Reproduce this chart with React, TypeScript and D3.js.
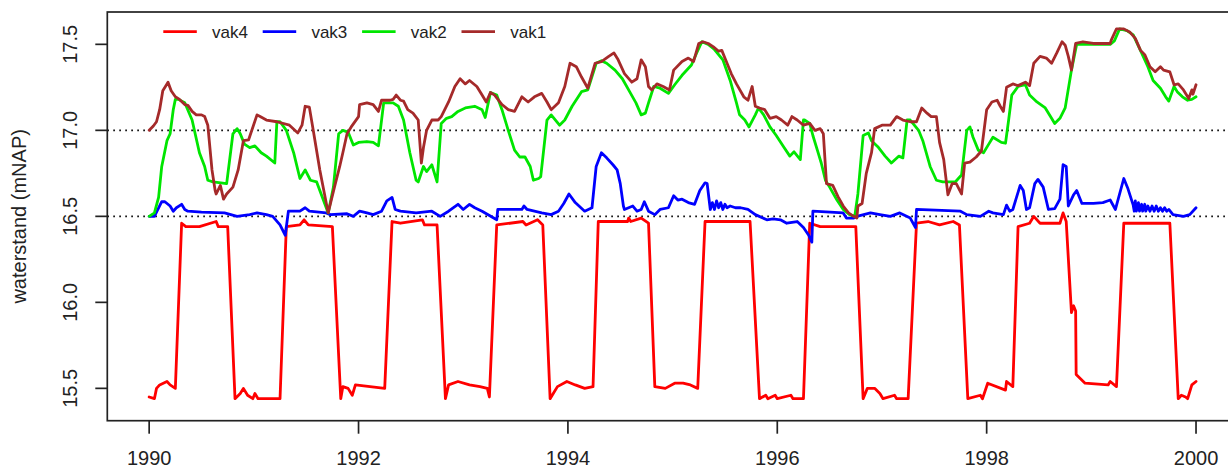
import React, { useEffect, useRef } from 'react'
import * as d3 from 'd3'

// water levels (mNAP) per compartment, [decimal year, level]
const vak4: [number, number][] = [
  [1990.00,15.45],[1990.05,15.44],[1990.07,15.50],[1990.10,15.52],[1990.17,15.54],[1990.20,15.52],[1990.25,15.50],
  [1990.31,16.46],[1990.35,16.44],[1990.48,16.44],[1990.64,16.47],[1990.66,16.44],[1990.75,16.44],
  [1990.82,15.44],[1990.87,15.47],[1990.90,15.50],[1990.94,15.46],[1990.99,15.44],[1991.01,15.47],[1991.04,15.44],[1991.25,15.44],
  [1991.31,16.44],[1991.44,16.45],[1991.48,16.48],[1991.52,16.45],[1991.75,16.44],
  [1991.83,15.44],[1991.85,15.51],[1991.90,15.50],[1991.94,15.46],[1991.97,15.52],[1992.11,15.51],[1992.25,15.50],
  [1992.32,16.47],[1992.40,16.46],[1992.61,16.48],[1992.63,16.45],[1992.75,16.45],
  [1992.83,15.44],[1992.86,15.52],[1992.95,15.54],[1993.06,15.52],[1993.16,15.51],[1993.23,15.50],[1993.25,15.45],
  [1993.32,16.45],[1993.57,16.47],[1993.60,16.45],[1993.71,16.48],[1993.76,16.45],
  [1993.83,15.44],[1993.86,15.47],[1993.90,15.51],[1993.99,15.54],[1994.07,15.52],[1994.16,15.50],[1994.24,15.51],
  [1994.29,16.47],[1994.57,16.47],[1994.58,16.49],[1994.60,16.47],[1994.70,16.49],[1994.77,16.46],
  [1994.83,15.51],[1994.93,15.50],[1995.02,15.53],[1995.10,15.53],[1995.17,15.52],[1995.24,15.50],
  [1995.31,16.47],[1995.74,16.47],
  [1995.83,15.44],[1995.89,15.46],[1995.91,15.44],[1995.98,15.46],[1996.00,15.44],[1996.13,15.46],[1996.15,15.44],[1996.25,15.44],
  [1996.31,16.46],[1996.41,16.44],[1996.75,16.44],
  [1996.82,15.44],[1996.86,15.50],[1996.93,15.50],[1996.98,15.47],[1997.01,15.44],[1997.12,15.46],[1997.14,15.44],[1997.25,15.44],
  [1997.33,16.46],[1997.44,16.47],[1997.55,16.45],[1997.68,16.47],[1997.74,16.45],
  [1997.82,15.44],[1997.94,15.46],[1997.96,15.44],[1998.01,15.53],[1998.18,15.49],[1998.19,15.54],[1998.25,15.51],
  [1998.30,16.44],[1998.41,16.46],[1998.45,16.50],[1998.51,16.46],[1998.70,16.46],[1998.73,16.52],[1998.76,16.47],
  [1998.81,15.94],[1998.83,15.98],[1998.85,15.95],[1998.855,15.58],[1998.94,15.53],[1999.16,15.52],[1999.18,15.54],[1999.24,15.51],
  [1999.31,16.46],[1999.75,16.46],
  [1999.83,15.44],[1999.86,15.46],[1999.90,15.45],[1999.92,15.44],[1999.96,15.52],[2000.00,15.54],
]

const vak3: [number, number][] = [
  [1990.00,16.50],[1990.05,16.50],[1990.12,16.585],[1990.15,16.585],[1990.20,16.56],[1990.23,16.53],[1990.26,16.55],
  [1990.31,16.57],[1990.34,16.54],[1990.37,16.53],[1990.50,16.525],[1990.72,16.52],[1990.84,16.50],[1990.96,16.51],
  [1991.03,16.52],[1991.12,16.51],[1991.18,16.50],[1991.25,16.45],[1991.30,16.39],[1991.33,16.53],[1991.44,16.53],
  [1991.49,16.55],[1991.53,16.53],[1991.69,16.52],[1991.73,16.51],[1991.89,16.515],[1991.95,16.50],[1992.01,16.53],
  [1992.08,16.52],[1992.14,16.51],[1992.22,16.53],[1992.27,16.59],[1992.32,16.61],[1992.35,16.54],[1992.40,16.53],
  [1992.55,16.52],[1992.70,16.53],[1992.78,16.50],[1992.86,16.53],[1992.95,16.57],[1993.00,16.54],[1993.06,16.57],
  [1993.11,16.55],[1993.18,16.53],[1993.32,16.48],[1993.33,16.54],[1993.56,16.54],[1993.58,16.56],[1993.61,16.54],
  [1993.75,16.52],[1993.84,16.51],[1993.91,16.53],[1993.96,16.575],[1994.01,16.63],[1994.07,16.58],[1994.16,16.53],
  [1994.23,16.55],[1994.27,16.79],[1994.32,16.87],[1994.37,16.84],[1994.43,16.80],[1994.47,16.77],[1994.50,16.69],
  [1994.53,16.56],[1994.54,16.54],[1994.62,16.56],[1994.66,16.53],[1994.70,16.54],[1994.73,16.585],[1994.77,16.53],
  [1994.83,16.51],[1994.88,16.54],[1994.96,16.55],[1995.01,16.62],[1995.05,16.595],[1995.09,16.60],[1995.15,16.58],
  [1995.21,16.57],[1995.26,16.65],[1995.31,16.695],[1995.33,16.69],[1995.36,16.54],[1995.38,16.58],[1995.40,16.54],
  [1995.42,16.59],[1995.44,16.55],[1995.46,16.58],[1995.48,16.54],[1995.50,16.57],[1995.52,16.55],[1995.55,16.56],
  [1995.60,16.55],[1995.65,16.55],[1995.72,16.54],[1995.79,16.51],[1995.90,16.48],[1995.96,16.485],[1996.03,16.48],
  [1996.09,16.46],[1996.19,16.47],[1996.25,16.435],[1996.30,16.39],[1996.33,16.35],[1996.34,16.53],[1996.63,16.52],
  [1996.66,16.49],[1996.73,16.49],[1996.76,16.50],[1996.89,16.52],[1996.98,16.51],[1997.08,16.50],[1997.17,16.52],
  [1997.27,16.49],[1997.32,16.435],[1997.33,16.54],[1997.75,16.53],[1997.81,16.51],[1997.94,16.50],[1998.02,16.53],
  [1998.06,16.52],[1998.16,16.51],[1998.19,16.565],[1998.22,16.53],[1998.25,16.54],[1998.32,16.68],[1998.35,16.65],
  [1998.38,16.54],[1998.41,16.55],[1998.46,16.69],[1998.49,16.715],[1998.54,16.67],[1998.59,16.54],[1998.65,16.545],
  [1998.70,16.60],[1998.73,16.80],[1998.76,16.79],[1998.78,16.56],[1998.83,16.625],[1998.86,16.65],[1998.91,16.575],
  [1999.02,16.575],[1999.11,16.58],[1999.18,16.595],[1999.23,16.54],[1999.31,16.72],[1999.35,16.66],[1999.40,16.565],
  [1999.41,16.53],[1999.42,16.59],[1999.43,16.53],[1999.45,16.58],[1999.46,16.53],[1999.48,16.57],[1999.49,16.53],
  [1999.51,16.57],[1999.52,16.53],[1999.54,16.56],[1999.56,16.53],[1999.58,16.56],[1999.60,16.53],[1999.62,16.56],
  [1999.64,16.53],[1999.66,16.55],[1999.68,16.53],[1999.70,16.55],[1999.72,16.53],[1999.74,16.54],[1999.78,16.51],
  [1999.88,16.50],[1999.94,16.51],[2000.00,16.55],
]

const vak2: [number, number][] = [
  [1990.00,16.50],[1990.05,16.52],[1990.09,16.61],[1990.12,16.79],[1990.17,16.94],[1990.20,16.98],[1990.23,17.12],
  [1990.25,17.18],[1990.28,17.18],[1990.34,17.16],[1990.41,17.06],[1990.48,16.87],[1990.53,16.79],[1990.56,16.71],
  [1990.61,16.70],[1990.74,16.69],[1990.80,16.98],[1990.84,17.01],[1990.87,16.98],[1990.91,16.92],[1990.96,16.90],
  [1991.01,16.91],[1991.07,16.87],[1991.12,16.85],[1991.20,16.81],[1991.22,17.05],[1991.25,17.05],[1991.31,17.00],
  [1991.38,16.87],[1991.44,16.72],[1991.49,16.77],[1991.54,16.71],[1991.60,16.70],[1991.71,16.52],[1991.76,16.67],
  [1991.81,16.98],[1991.85,17.00],[1991.90,16.99],[1991.95,16.915],[1992.00,16.93],[1992.08,16.935],[1992.14,16.93],
  [1992.19,16.91],[1992.24,17.16],[1992.33,17.16],[1992.38,17.14],[1992.43,17.06],[1992.49,16.87],[1992.55,16.71],
  [1992.57,16.70],[1992.62,16.79],[1992.65,16.76],[1992.70,16.80],[1992.75,16.70],[1992.79,17.04],[1992.84,17.07],
  [1992.89,17.08],[1992.95,17.11],[1993.02,17.13],[1993.11,17.14],[1993.18,17.12],[1993.21,17.075],[1993.26,17.22],
  [1993.32,17.205],[1993.37,17.12],[1993.43,17.00],[1993.49,16.885],[1993.54,16.845],[1993.59,16.845],[1993.64,16.79],
  [1993.67,16.71],[1993.72,16.72],[1993.74,16.73],[1993.80,17.06],[1993.84,17.09],[1993.92,17.03],[1993.97,17.06],
  [1994.04,17.14],[1994.13,17.225],[1994.19,17.235],[1994.27,17.39],[1994.32,17.405],[1994.37,17.39],[1994.45,17.35],
  [1994.52,17.30],[1994.58,17.235],[1994.65,17.16],[1994.70,17.09],[1994.74,17.10],[1994.77,17.16],[1994.82,17.255],
  [1994.88,17.245],[1994.96,17.215],[1995.02,17.265],[1995.09,17.32],[1995.18,17.38],[1995.23,17.45],[1995.28,17.515],
  [1995.34,17.50],[1995.40,17.47],[1995.48,17.41],[1995.55,17.29],[1995.61,17.16],[1995.64,17.09],[1995.69,17.06],
  [1995.73,17.02],[1995.79,17.09],[1995.82,17.13],[1995.87,17.09],[1995.93,17.02],[1995.99,16.97],[1996.06,16.905],
  [1996.12,16.85],[1996.16,16.875],[1996.22,16.83],[1996.25,17.06],[1996.26,17.06],[1996.31,17.04],[1996.34,16.97],
  [1996.39,16.87],[1996.42,16.81],[1996.46,16.71],[1996.50,16.67],[1996.57,16.595],[1996.63,16.54],[1996.69,16.51],
  [1996.74,16.50],[1996.77,16.63],[1996.82,16.97],[1996.87,16.985],[1996.90,16.94],[1996.96,16.905],[1997.03,16.85],
  [1997.09,16.81],[1997.16,16.85],[1997.20,16.84],[1997.24,17.06],[1997.27,17.06],[1997.35,17.00],[1997.39,16.94],
  [1997.46,16.79],[1997.52,16.71],[1997.58,16.70],[1997.70,16.70],[1997.76,16.74],[1997.81,17.00],[1997.84,17.02],
  [1997.87,16.96],[1997.92,16.885],[1997.97,16.87],[1998.02,16.92],[1998.06,16.96],[1998.14,16.93],[1998.18,16.925],
  [1998.21,17.06],[1998.24,17.205],[1998.30,17.255],[1998.37,17.265],[1998.41,17.205],[1998.48,17.165],[1998.56,17.13],
  [1998.62,17.07],[1998.65,17.04],[1998.70,17.07],[1998.75,17.13],[1998.81,17.35],[1998.86,17.50],[1999.02,17.50],
  [1999.18,17.50],[1999.22,17.52],[1999.27,17.59],[1999.34,17.58],[1999.40,17.555],[1999.48,17.45],[1999.54,17.37],
  [1999.59,17.29],[1999.66,17.245],[1999.71,17.195],[1999.74,17.17],[1999.79,17.255],[1999.82,17.225],[1999.87,17.195],
  [1999.92,17.175],[1999.96,17.18],[2000.00,17.195],
]

const vak1: [number, number][] = [
  [1990.00,17.00],[1990.04,17.025],[1990.07,17.05],[1990.10,17.12],[1990.13,17.23],[1990.17,17.27],[1990.18,17.28],
  [1990.21,17.23],[1990.25,17.195],[1990.29,17.18],[1990.34,17.15],[1990.37,17.145],[1990.41,17.11],[1990.45,17.09],
  [1990.50,17.09],[1990.53,17.08],[1990.56,17.03],[1990.60,16.77],[1990.63,16.65],[1990.64,16.63],[1990.68,16.68],
  [1990.71,16.60],[1990.74,16.63],[1990.80,16.67],[1990.85,16.77],[1990.90,16.94],[1990.95,16.945],[1991.03,17.09],
  [1991.06,17.08],[1991.12,17.06],[1991.22,17.05],[1991.34,17.03],[1991.42,16.985],[1991.46,17.03],[1991.49,17.14],
  [1991.53,17.135],[1991.57,16.99],[1991.63,16.77],[1991.71,16.52],[1991.74,16.595],[1991.77,16.67],[1991.82,16.79],
  [1991.85,16.87],[1991.89,16.98],[1991.93,17.02],[1992.00,17.08],[1992.01,17.15],[1992.08,17.16],[1992.14,17.15],
  [1992.19,17.11],[1992.22,17.175],[1992.30,17.175],[1992.33,17.18],[1992.36,17.205],[1992.40,17.175],[1992.43,17.17],
  [1992.47,17.12],[1992.52,17.10],[1992.57,17.06],[1992.60,16.81],[1992.62,16.90],[1992.65,17.00],[1992.70,17.06],
  [1992.76,17.06],[1992.79,17.08],[1992.86,17.165],[1992.92,17.255],[1992.97,17.30],[1993.02,17.27],[1993.06,17.29],
  [1993.13,17.255],[1993.18,17.205],[1993.22,17.165],[1993.26,17.22],[1993.30,17.205],[1993.37,17.15],[1993.43,17.12],
  [1993.49,17.11],[1993.56,17.195],[1993.62,17.165],[1993.68,17.195],[1993.75,17.215],[1993.80,17.165],[1993.84,17.12],
  [1993.91,17.16],[1993.97,17.255],[1994.02,17.39],[1994.08,17.37],[1994.13,17.31],[1994.19,17.245],[1994.26,17.39],
  [1994.32,17.40],[1994.39,17.43],[1994.44,17.45],[1994.48,17.41],[1994.54,17.33],[1994.61,17.28],[1994.66,17.30],
  [1994.70,17.41],[1994.74,17.37],[1994.77,17.255],[1994.80,17.235],[1994.85,17.27],[1994.91,17.255],[1994.97,17.235],
  [1995.01,17.35],[1995.09,17.40],[1995.15,17.42],[1995.20,17.40],[1995.25,17.505],[1995.29,17.515],[1995.34,17.505],
  [1995.39,17.485],[1995.44,17.46],[1995.47,17.465],[1995.52,17.39],[1995.56,17.33],[1995.61,17.27],[1995.68,17.195],
  [1995.72,17.175],[1995.76,17.255],[1995.79,17.14],[1995.83,17.13],[1995.88,17.12],[1995.93,17.07],[1995.99,17.08],
  [1996.04,17.06],[1996.10,17.03],[1996.14,17.08],[1996.19,17.06],[1996.25,17.03],[1996.31,17.04],[1996.36,17.00],
  [1996.41,17.01],[1996.44,16.98],[1996.47,16.69],[1996.53,16.68],[1996.58,16.615],[1996.63,16.56],[1996.68,16.52],
  [1996.73,16.50],[1996.76,16.49],[1996.77,16.56],[1996.81,16.575],[1996.85,16.75],[1996.90,16.87],[1996.93,17.01],
  [1997.00,17.03],[1997.08,17.03],[1997.14,17.08],[1997.20,17.06],[1997.27,17.05],[1997.33,17.05],[1997.38,17.13],
  [1997.43,17.10],[1997.47,17.08],[1997.52,17.08],[1997.55,16.93],[1997.59,16.83],[1997.63,16.625],[1997.67,16.69],
  [1997.71,16.69],[1997.76,16.63],[1997.79,16.81],[1997.84,16.815],[1997.90,16.845],[1997.95,16.88],[1998.00,17.12],
  [1998.05,17.165],[1998.10,17.175],[1998.13,17.14],[1998.16,17.11],[1998.19,17.25],[1998.25,17.27],[1998.30,17.26],
  [1998.37,17.28],[1998.41,17.26],[1998.45,17.39],[1998.51,17.43],[1998.57,17.42],[1998.62,17.39],[1998.67,17.45],
  [1998.72,17.515],[1998.75,17.495],[1998.78,17.43],[1998.81,17.35],[1998.85,17.505],[1998.92,17.515],[1999.02,17.505],
  [1999.18,17.505],[1999.19,17.525],[1999.24,17.59],[1999.31,17.59],[1999.37,17.57],[1999.42,17.535],[1999.47,17.465],
  [1999.51,17.44],[1999.56,17.37],[1999.61,17.34],[1999.66,17.37],[1999.69,17.35],[1999.75,17.34],[1999.79,17.265],
  [1999.83,17.27],[1999.88,17.235],[1999.93,17.185],[1999.96,17.235],[1999.97,17.21],[2000.00,17.265],
]

const series = [
  { name: 'vak4', color: '#ff0000', values: vak4 },
  { name: 'vak3', color: '#0000ff', values: vak3 },
  { name: 'vak2', color: '#00e600', values: vak2 },
  { name: 'vak1', color: '#a52a2a', values: vak1 },
]

const yearTicks = [1990, 1992, 1994, 1996, 1998, 2000]
const levelTicks = [15.5, 16.0, 16.5, 17.0, 17.5]
const refLevels = [16.5, 17.0]

const WaterChart = () => {
  const ref = useRef<SVGSVGElement>(null)

  useEffect(() => {
    const width = 1228
    const height = 469
    const left = 107.3, right = 1237.9, top = 12, bottom = 420.7
    const font = '"Liberation Sans", Arial, sans-serif'

    const svg = d3.select(ref.current).attr('width', width).attr('height', height)
    svg.selectAll('*').remove()

    // R style: 4% padding on both axes
    const x = d3.scaleLinear().domain([1989.6, 2000.4]).range([left, right])
    const y = d3.scaleLinear().domain([15.312, 17.688]).range([bottom, top])

    svg.append('rect').attr('width', width).attr('height', height).attr('fill', '#fff')

    // dotted reference lines
    svg.selectAll('line.ref')
      .data(refLevels)
      .enter()
      .append('line')
      .attr('x1', left).attr('x2', right)
      .attr('y1', (d) => y(d)).attr('y2', (d) => y(d))
      .attr('stroke', '#000')
      .attr('stroke-width', 1.6)
      .attr('stroke-dasharray', '1.6 4.4')

    const line = d3.line<[number, number]>()
      .x((d) => x(d[0]))
      .y((d) => y(d[1]))

    series.forEach((s) => {
      svg.append('path')
        .datum(s.values)
        .attr('d', line)
        .attr('fill', 'none')
        .attr('stroke', s.color)
        .attr('stroke-width', 2.8)
        .attr('stroke-linejoin', 'round')
        .attr('stroke-linecap', 'round')
    })

    // box
    svg.append('rect')
      .attr('x', left).attr('y', top)
      .attr('width', right - left).attr('height', bottom - top)
      .attr('fill', 'none').attr('stroke', '#222').attr('stroke-width', 1.7)

    // x axis
    const xa = svg.append('g')
    xa.selectAll('line').data(yearTicks).enter().append('line')
      .attr('x1', (d) => x(d)).attr('x2', (d) => x(d))
      .attr('y1', bottom).attr('y2', bottom + 13)
      .attr('stroke', '#222').attr('stroke-width', 1.7)
    xa.selectAll('text').data(yearTicks).enter().append('text')
      .attr('x', (d) => x(d)).attr('y', 465)
      .attr('text-anchor', 'middle')
      .style('font-family', font).style('font-size', '20px').attr('fill', '#222')
      .text((d) => d)

    // y axis
    const ya = svg.append('g')
    ya.selectAll('line').data(levelTicks).enter().append('line')
      .attr('x1', left - 12).attr('x2', left)
      .attr('y1', (d) => y(d)).attr('y2', (d) => y(d))
      .attr('stroke', '#222').attr('stroke-width', 1.7)
    ya.selectAll('text').data(levelTicks).enter().append('text')
      .attr('transform', (d) => `translate(77,${y(d)}) rotate(-90)`)
      .attr('text-anchor', 'middle')
      .style('font-family', font).style('font-size', '20px').attr('fill', '#222')
      .text((d) => d.toFixed(1))

    svg.append('text')
      .attr('transform', `translate(25.5,${(top + bottom) / 2}) rotate(-90)`)
      .attr('text-anchor', 'middle')
      .style('font-family', font).style('font-size', '20px').attr('fill', '#222')
      .text('waterstand (mNAP)')

    // legend
    const lg = svg.append('g').attr('transform', 'translate(163.3,31.7)')
    const item = lg.selectAll('g').data(series).enter().append('g')
      .attr('transform', (d, i) => `translate(${i * 99.4},0)`)
    item.append('line')
      .attr('x1', 0).attr('x2', 33.5).attr('y1', 0).attr('y2', 0)
      .attr('stroke', (d) => d.color).attr('stroke-width', 2.8)
    item.append('text')
      .attr('x', 48.7).attr('y', 6)
      .style('font-family', font).style('font-size', '17px').attr('fill', '#222')
      .text((d) => d.name)
  }, [])

  return <svg ref={ref} style={{ position: 'absolute', left: 0, top: 0, display: 'block' }} />
}

export default function App() {
  return <WaterChart />
}
